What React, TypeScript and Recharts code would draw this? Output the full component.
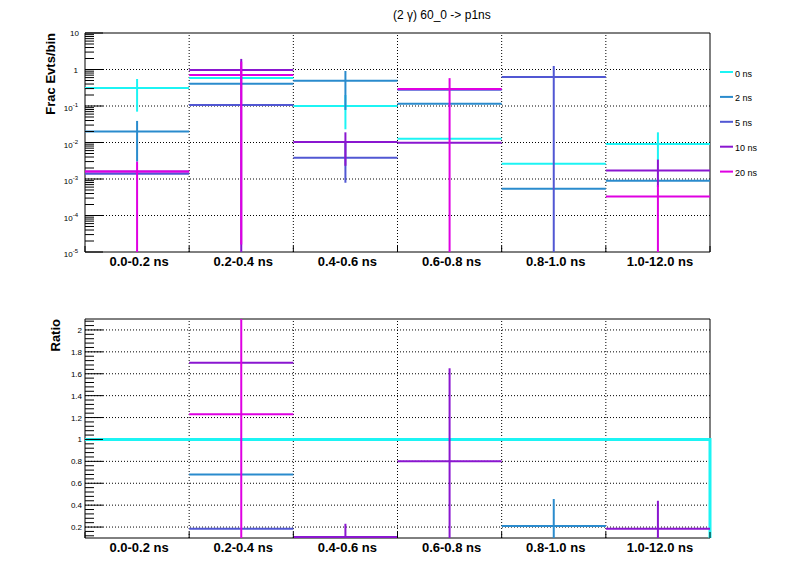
import React from 'react';
import { ComposedChart, Scatter, ErrorBar, Line, XAxis, YAxis, ReferenceLine, ReferenceArea } from 'recharts';

const FONT = '"Liberation Sans", Arial, Helvetica, sans-serif';

const bins = ['0.0-0.2 ns', '0.2-0.4 ns', '0.4-0.6 ns', '0.6-0.8 ns', '0.8-1.0 ns', '1.0-12.0 ns'];
const binEdges = [0, 1, 2, 3, 4, 5, 6];
const seriesNames = ['0 ns', '2 ns', '5 ns', '10 ns', '20 ns'];
const seriesColors = ['#1cf4f4', '#2a8bcd', '#5157d3', '#8a16d0', '#df00e2'];

// fraction of events per bin (null = nothing drawn)
const frac0ns = [0.31, 0.585, 0.1, 0.0127, 0.0026, 0.0091];
const frac2ns = [0.02, 0.41, 0.49, 0.116, 0.00054, 0.0009];
const frac5ns = [0.0014, 0.106, 0.0038, 0.28, 0.62, null];
const frac10ns = [0.0016, 0.97, 0.0103, 0.0099, null, 0.0017];
const frac20ns = [0.0016, 0.71, null, 0.29, null, 0.00033];

// visible error range [low, high]; low 0 = runs past the bottom of the axis
const fracErr0ns = [[0.07, 0.55], null, [0.023, 0.2], null, null, [0.0033, 0.019]];
const fracErr2ns = [[0.003, 0.039], null, [0.078, 0.91], null, null, null];
const fracErr5ns = [null, null, [0.00079, 0.0103], null, [0, 1.25], null];
const fracErr10ns = [null, [0, 1.95], [0.0023, 0.019], null, null, [0.0006, 0.0034]];
const fracErr20ns = [[0, 0.003], [1.6e-5, 1.64], null, [0, 0.58], null, [0, 0.00068]];

// ratio to 0 ns (only the points that fall inside the panel)
const ratio0ns = [1, 1, 1, 1, 1, 1];
const ratio2ns = [null, 0.68, null, null, 0.21, null];
const ratio5ns = [null, 0.185, null, null, null, null];
const ratio10ns = [null, 1.7, 0.11, 0.8, null, 0.185];
const ratio20ns = [null, 1.23, null, null, null, null];

const ratioErr2ns = [null, null, null, null, [0, 0.456], null];
const ratioErr5ns = [null, null, null, null, null, null];
const ratioErr10ns = [null, null, [0, 0.23], [0, 1.65], null, [0, 0.44]];
const ratioErr20ns = [null, [0, 3], null, null, null, null];

const logMajor = [1e-5, 1e-4, 1e-3, 1e-2, 1e-1, 1, 10];
const logMinor = logMajor.slice(0, -1).flatMap((d) => [2, 3, 4, 5, 6, 7, 8, 9].map((k) => k * d));
const ratioMajor = [0.2, 0.4, 0.6, 0.8, 1, 1.2, 1.4, 1.6, 1.8, 2];
const ratioMinor = Array.from({ length: 50 }, (_, i) => +(0.12 + 0.04 * i).toFixed(2)).filter(
  (v) => v < 2.1 && !ratioMajor.some((m) => Math.abs(m - v) < 1e-6)
);

const FRAC_MIN = 1e-5;
const FRAC_MAX = 10;
const RATIO_MIN = 0.1;
const RATIO_MAX = 2.1;

type Err = number[] | null;

function errorPoints(vals: (number | null)[], errs: Err[], lo: number, hi: number) {
  const pts: any[] = [];
  vals.forEach((v, i) => {
    if (v == null) return;
    const e = errs[i];
    const low = e ? Math.max(e[0], lo) : v;
    const high = e ? Math.min(e[1], hi) : v;
    pts.push({ x: i + 0.5, y: v, ex: 0.5, ey: [v - low, high - v] });
  });
  return pts;
}

const fracVals = [frac0ns, frac2ns, frac5ns, frac10ns, frac20ns];
const fracErrs = [fracErr0ns, fracErr2ns, fracErr5ns, fracErr10ns, fracErr20ns];
const topSeries = seriesNames.map((name, i) => ({
  name,
  color: seriesColors[i],
  points: errorPoints(fracVals[i], fracErrs[i], FRAC_MIN, FRAC_MAX),
}));

const ratioVals = [ratio2ns, ratio5ns, ratio10ns, ratio20ns];
const ratioErrs = [ratioErr2ns, ratioErr5ns, ratioErr10ns, ratioErr20ns];
const bottomSeries = seriesNames.slice(1).map((name, i) => ({
  name,
  color: seriesColors[i + 1],
  points: errorPoints(ratioVals[i], ratioErrs[i], RATIO_MIN, RATIO_MAX),
}));

// 0 ns drawn as a histogram outline
const refHist = ratio0ns
  .flatMap((r, i) => [{ x: binEdges[i], y: r }, { x: binEdges[i + 1], y: r }])
  .concat([{ x: binEdges[binEdges.length - 1], y: RATIO_MIN }]);

const noShape = () => <g />;

function BinTick(props: any) {
  const { x, y, payload } = props;
  const v = payload.value;
  if (Number.isInteger(v)) {
    return <line x1={x} x2={x} y1={y} y2={y - 6} stroke="#000" />;
  }
  return (
    <text x={x + 2} y={y + 14} textAnchor="middle" fontFamily={FONT} fontWeight="bold" fontSize={13} fill="#000">
      {bins[Math.floor(v)]}
    </text>
  );
}

function LogTick(props: any) {
  const { x, y, payload } = props;
  const v = payload.value;
  const major = logMajor.some((m) => Math.abs(m - v) / m < 1e-6);
  const exp = Math.round(Math.log10(v));
  return (
    <g>
      <line x1={x} x2={x + (major ? 18 : 9)} y1={y} y2={y} stroke="#000" />
      {major && exp === 1 && (
        <text x={x - 6} y={y + 3} textAnchor="end" fontFamily={FONT} fontSize={8} fill="#000">10</text>
      )}
      {major && exp === 0 && (
        <text x={x - 7} y={y + 3} textAnchor="end" fontFamily={FONT} fontSize={8} fill="#000">1</text>
      )}
      {major && exp < 0 && (
        <text x={x - 7} y={y + 5} textAnchor="end" fontFamily={FONT} fontSize={8} fill="#000">
          10<tspan dy={-4} fontSize={6}>{exp}</tspan>
        </text>
      )}
    </g>
  );
}

function RatioTick(props: any) {
  const { x, y, payload } = props;
  const v = payload.value;
  const major = ratioMajor.some((m) => Math.abs(m - v) < 1e-6);
  return (
    <g>
      <line x1={x} x2={x + (major ? 18 : 9)} y1={y} y2={y} stroke="#000" />
      {major && (
        <text x={x - 3} y={y + 3} textAnchor="end" fontFamily={FONT} fontSize={8} fill="#000">
          {String(+v.toFixed(1))}
        </text>
      )}
    </g>
  );
}

const xTicks = [...binEdges, ...binEdges.slice(0, -1).map((e) => e + 0.5)];
const gridStyle = { stroke: '#000', strokeDasharray: '1 2', strokeWidth: 1 };

export default function App() {
  return (
    <div style={{ position: 'absolute', left: 0, top: 0, width: 796, height: 572, background: '#fff' }}>
      <div style={{ position: 'absolute', left: 0, top: 0 }}>
        <ComposedChart width={796} height={290} margin={{ top: 33, right: 86, bottom: 8, left: 25 }}>
          <XAxis
            type="number"
            dataKey="x"
            domain={[0, 6]}
            ticks={xTicks}
            interval={0}
            allowDataOverflow
            height={30}
            axisLine={false}
            tickLine={false}
            tickSize={0}
            tickMargin={0}
            tick={<BinTick />}
          />
          <YAxis
            type="number"
            dataKey="y"
            scale="log"
            domain={[FRAC_MIN, FRAC_MAX]}
            ticks={[...logMajor, ...logMinor]}
            interval={0}
            allowDataOverflow
            width={60}
            axisLine={false}
            tickLine={false}
            tickSize={0}
            tickMargin={0}
            tick={<LogTick />}
          />
          {logMajor.slice(1, -1).map((v) => (
            <ReferenceLine key={'h' + v} y={v} {...gridStyle} />
          ))}
          {binEdges.slice(1, -1).map((v) => (
            <ReferenceLine key={'v' + v} x={v} {...gridStyle} />
          ))}
          <ReferenceArea x1={0} x2={6} y1={FRAC_MIN} y2={FRAC_MAX} fill="none" stroke="#000" strokeWidth={1} fillOpacity={0} ifOverflow="visible" />
          {topSeries.map((s) => (
            <Scatter key={s.name} name={s.name} data={s.points} fill={s.color} shape={noShape} isAnimationActive={false}>
              <ErrorBar dataKey="ex" direction="x" width={0} stroke={s.color} strokeWidth={2} isAnimationActive={false} />
              <ErrorBar dataKey="ey" direction="y" width={0} stroke={s.color} strokeWidth={2} isAnimationActive={false} />
            </Scatter>
          ))}
        </ComposedChart>
      </div>
      <div style={{ position: 'absolute', left: 0, top: 290 }}>
        <ComposedChart width={796} height={282} margin={{ top: 29, right: 86, bottom: 8, left: 25 }}>
          <XAxis
            type="number"
            dataKey="x"
            domain={[0, 6]}
            ticks={xTicks}
            interval={0}
            height={26}
            axisLine={false}
            tickLine={false}
            tickSize={0}
            tickMargin={0}
            tick={<BinTick />}
          />
          <YAxis
            type="number"
            dataKey="y"
            domain={[RATIO_MIN, RATIO_MAX]}
            ticks={[...ratioMajor, ...ratioMinor]}
            interval={0}
            width={60}
            axisLine={false}
            tickLine={false}
            tickSize={0}
            tickMargin={0}
            tick={<RatioTick />}
          />
          {ratioMajor.map((v) => (
            <ReferenceLine key={'h' + v} y={v} {...gridStyle} />
          ))}
          {binEdges.slice(1, -1).map((v) => (
            <ReferenceLine key={'v' + v} x={v} {...gridStyle} />
          ))}
          <ReferenceArea x1={0} x2={6} y1={RATIO_MIN} y2={RATIO_MAX} fill="none" stroke="#000" strokeWidth={1} fillOpacity={0} ifOverflow="visible" />
          <Line data={refHist} dataKey="y" type="linear" stroke={seriesColors[0]} strokeWidth={3} dot={false} isAnimationActive={false} />
          {bottomSeries.map((s) => (
            <Scatter key={s.name} name={s.name} data={s.points} fill={s.color} shape={noShape} isAnimationActive={false}>
              <ErrorBar dataKey="ex" direction="x" width={0} stroke={s.color} strokeWidth={2} isAnimationActive={false} />
              <ErrorBar dataKey="ey" direction="y" width={0} stroke={s.color} strokeWidth={2} isAnimationActive={false} />
            </Scatter>
          ))}
        </ComposedChart>
      </div>
      <svg width={796} height={572} style={{ position: 'absolute', left: 0, top: 0, pointerEvents: 'none' }}>
        <text x={393} y={19} fontFamily={FONT} fontSize={12} fill="#000">(2 γ) 60_0 -&gt; p1ns</text>
        <text x={54.5} y={33} transform="rotate(-90 54.5 33)" textAnchor="end" fontFamily={FONT} fontWeight="bold" fontSize={13} fill="#000">
          Frac Evts/bin
        </text>
        <text x={59.5} y={319} transform="rotate(-90 59.5 319)" textAnchor="end" fontFamily={FONT} fontWeight="bold" fontSize={13} fill="#000">
          Ratio
        </text>
        {seriesNames.map((name, i) => (
          <g key={name}>
            <line x1={720} x2={733} y1={72 + i * 24.9} y2={72 + i * 24.9} stroke={seriesColors[i]} strokeWidth={2} />
            <text x={735} y={76.5 + i * 24.9} fontFamily={FONT} fontSize={9} fill="#000">{name}</text>
          </g>
        ))}
      </svg>
    </div>
  );
}
